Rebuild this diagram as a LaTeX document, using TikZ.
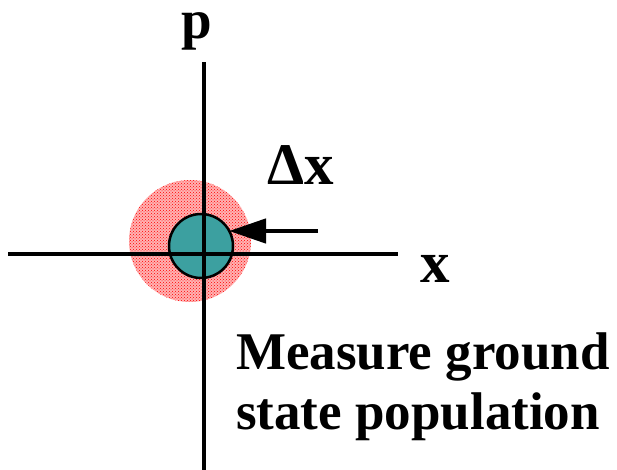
\documentclass[tikz,border=0pt]{standalone}
\usepackage{fontspec}
\setmainfont{Liberation Serif}
\usetikzlibrary{patterns,arrows.meta}
\begin{document}
\begin{tikzpicture}[x=1pt,y=-1pt,
  axis/.style={line width=4.5pt},
  lbl/.style={inner sep=0pt,anchor=base west,font=\fontsize{53}{60}\selectfont\bfseries},
  biglbl/.style={lbl,font=\fontsize{59}{60}\selectfont\bfseries},
  cloud/.style={circle,inner sep=0pt,minimum size=122pt,fill=red!30},
  core/.style={circle,inner sep=0pt,minimum size=64pt,draw=black,line width=2.5pt,fill={rgb,255:red,60;green,160;blue,160}}]
\useasboundingbox (0,0) rectangle (617,470);
\node[cloud] (outer) at (190,241) {};
\fill[pattern=crosshatch dots,pattern color=red] (outer.center) circle (61pt);
\node[core] (dx) at (201,246) {};
\coordinate (ptop) at (204,62);
\coordinate (pbot) at (204,470);
\coordinate (xl) at (8,254);
\coordinate (xr) at (398,254);
\draw[axis] (pbot) -- (ptop);
\draw[axis] (xl) -- (xr);
\coordinate (astart) at (318,231);
\coordinate (atip) at (229,231);
\draw[line width=4.5pt,-{Triangle[length=37pt,width=24pt]}] (astart) -- (atip);
\node[lbl,font=\fontsize{55}{60}\selectfont\bfseries] (plbl) at (181,39) {p};
\node[biglbl] (xlbl) at (420,282) {x};
\node[biglbl] (dxlbl) at (267,185) {Δx};
\node[lbl] (m1) at (236,369) {Measure ground};
\node[lbl] (m2) at (236,429) {state population};
\end{tikzpicture}
\end{document}
